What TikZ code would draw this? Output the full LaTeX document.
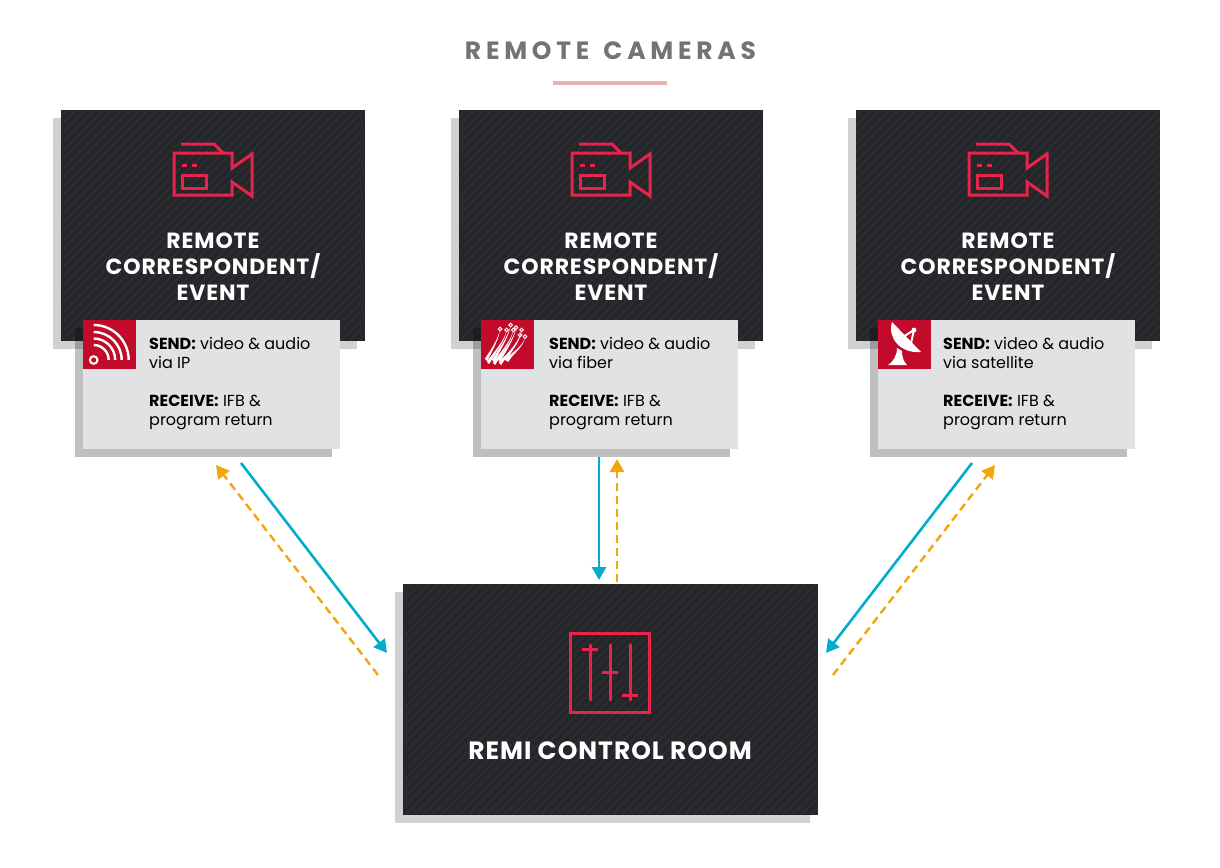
\documentclass[tikz,border=0pt]{standalone}
\usepackage{fontspec}
\setmainfont{Poppins}
\newfontfamily\titlefont[LetterSpace=19]{Poppins}
\newfontfamily\headfont[LetterSpace=4]{Poppins}
\usetikzlibrary{arrows.meta,shadows,calc}
\definecolor{boxdark}{HTML}{25262A}
\definecolor{boxstripe}{HTML}{2D2E32}
\definecolor{iconred}{HTML}{E9234B}
\definecolor{tagred}{HTML}{C20A2A}
\definecolor{infogrey}{HTML}{E1E2E4}
\definecolor{sendblue}{HTML}{00AECB}
\definecolor{backorange}{HTML}{F2A50C}
\definecolor{barpink}{HTML}{E9B0B3}
\tikzset{
  darkbox/.style={minimum height=230.2pt,inner sep=0pt,outer sep=0pt,fill=boxdark,draw=boxdark,line width=0.8pt,
    general shadow={shadow xshift=-8pt,shadow yshift=-8pt,fill=black,fill opacity=0.18,draw=none},
    path picture={\foreach \k in {-80,...,80}
      \draw[boxstripe,line width=1.6pt] ($(path picture bounding box.center)+(\k*9pt-240pt,-240pt)$) -- ++(480pt,480pt);}},
  infobox/.style={minimum width=257pt,minimum height=129pt,inner sep=0pt,outer sep=0pt,fill=infogrey,
    general shadow={shadow xshift=-8pt,shadow yshift=-8pt,fill=black,fill opacity=0.25}},
  tagbox/.style={minimum width=53pt,minimum height=49pt,inner sep=0pt,outer sep=0pt,fill=tagred},
  heading/.style={text=white,align=center,font=\fontsize{22}{26}\selectfont\bfseries\headfont},
  infotext/.style={anchor=north west,align=left,inner sep=0pt,text=black,font=\fontsize{16}{19}\selectfont},
  sendline/.style={sendblue,line width=2.6pt,-{Triangle[length=13pt,width=14pt]}},
  backline/.style={backorange,line width=2.4pt,dash pattern=on 8pt off 5pt,-{Triangle[length=13pt,width=14pt]}},
  camera/.pic={
    \draw[iconred,line width=3pt,line join=miter] (-33,-31) -- (0,-31) -- (9,-22);
    \draw[iconred,line width=3pt] (18,-7) -- (18,-22) -- (-40,-22) -- (-40,20) -- (18,20) -- (18,7) -- (38,21) -- (38,-21) -- cycle;
    \draw[iconred,line width=3pt] (-32,13) rectangle (-8,0) (-32,-10) -- (-27,-10) (-22,-10) -- (-17,-10);
  },
  mixer/.pic={
    \draw[iconred,line width=3pt] (-39.3,-39.3) rectangle (39.3,39.3);
    \foreach \x/\y in {-20/-23,0/0,20/23}{
      \draw[iconred,line width=3pt,line cap=round] (\x,-28) -- (\x,27);
      \draw[iconred,line width=3pt] (\x-8,\y) -- (\x+8,\y);
    }
  },
  wifi/.pic={
    \draw[white,line width=2pt] (10.7,40) circle (3.8);
    \foreach \r in {15,21.5,28,35}
      \draw[white,line width=2.4pt] (10.7,40-\r) arc (-90:0:\r);
  },
  fiber/.pic={
    \foreach \bx/\by/\x/\y in {5/40/19/9,7/43/25.7/10,12/41/29.7/5,13/44/32.3/10,18/41/35/7.7,19/44/39/15,24/40/40.7/10,26/41/44/16.7}{
      \fill[white] (\bx-1.2,\by-1.2) .. controls (\bx+4,\by-9) and (\x-2,\y+11) .. (\x,\y)
        .. controls (\x-1,\y+11) and (\bx+5,\by-7) .. (\bx+1.2,\by+1.2) -- cycle;
      \draw[white,fill=tagred,line width=1pt] (\x,\y) circle (1.8);
    }
  },
  dish/.pic={
    \fill[white] (14,2) .. controls (9,18) and (23,34) .. (43,32) -- cycle;
    \draw[white,line width=2pt] (25,17) -- (36,10) -- (33,23);
    \fill[white] (36,10) circle (2.4);
    \fill[white] (19,28) .. controls (19,36) and (15,42) .. (10,45) -- (29,45) .. controls (25,41) and (24,36) .. (24,31) -- cycle;
  }
}
\begin{document}
\begin{tikzpicture}[x=1pt,y=-1pt]
  \useasboundingbox (0,0) rectangle (1220,867);

  \node (title) at (610.5,51) [text=black!55,font=\fontsize{25}{28}\selectfont\bfseries\titlefont] {REMOTE\hspace{4pt} CAMERAS};
  \draw[barpink,line width=3.5pt] (553,83) -- (667,83);

  % remote boxes
  \foreach \name/\cx/\ix/\tx/\how/\icon in {A/213/211.5/149/via IP/wifi,B/611/609.5/549/via fiber/fiber,C/1008/1006.5/943/via satellite/dish}{
    \node (box\name) at (\cx,225.5) [darkbox,minimum width=303.2pt] {};
    \pic at (\cx+1,175) {camera};
    \node (head\name) at (\cx,267) [heading] {REMOTE\\CORRESPONDENT/\\EVENT};
    \node (info\name) at (\ix,384.5) [infobox] {};
    \node (tag\name) [tagbox,anchor=north west] at (info\name.north west) {};
    \node (send\name) at (\tx,337) [infotext] {\textbf{SEND:} video \& audio\\\how\\[19pt]\textbf{RECEIVE:} IFB \&\\program return};
  }
  \pic at (tagA.north west) {wifi};
  \pic at (tagB.north west) {fiber};
  \pic at (tagC.north west) {dish};

  % control room
  \node (room) at (610.5,699.5) [darkbox,minimum width=414.2pt] {};
  \pic at (610,672.8) {mixer};
  \node (roomhead) at (610,751) [heading,font=\fontsize{25}{28}\selectfont\bfseries\headfont] {REMI CONTROL ROOM};

  % signal ends
  \coordinate (aout) at (241,463);
  \coordinate (ain) at (387,653);
  \coordinate (bout) at (599,457);
  \coordinate (bin) at (599,580);
  \coordinate (cout) at (972,463);
  \coordinate (cin) at (826,653);
  \coordinate (aback) at (378,675);
  \coordinate (aret) at (216,465);
  \coordinate (bback) at (617,582);
  \coordinate (bret) at (617,459);
  \coordinate (cback) at (833,675);
  \coordinate (cret) at (995,465);
  \draw[sendline] (aout) -- (ain);
  \draw[sendline] (bout) -- (bin);
  \draw[sendline] (cout) -- (cin);
  \draw[backline] (aback) -- (aret);
  \draw[backline] (bback) -- (bret);
  \draw[backline] (cback) -- (cret);
\end{tikzpicture}
\end{document}
